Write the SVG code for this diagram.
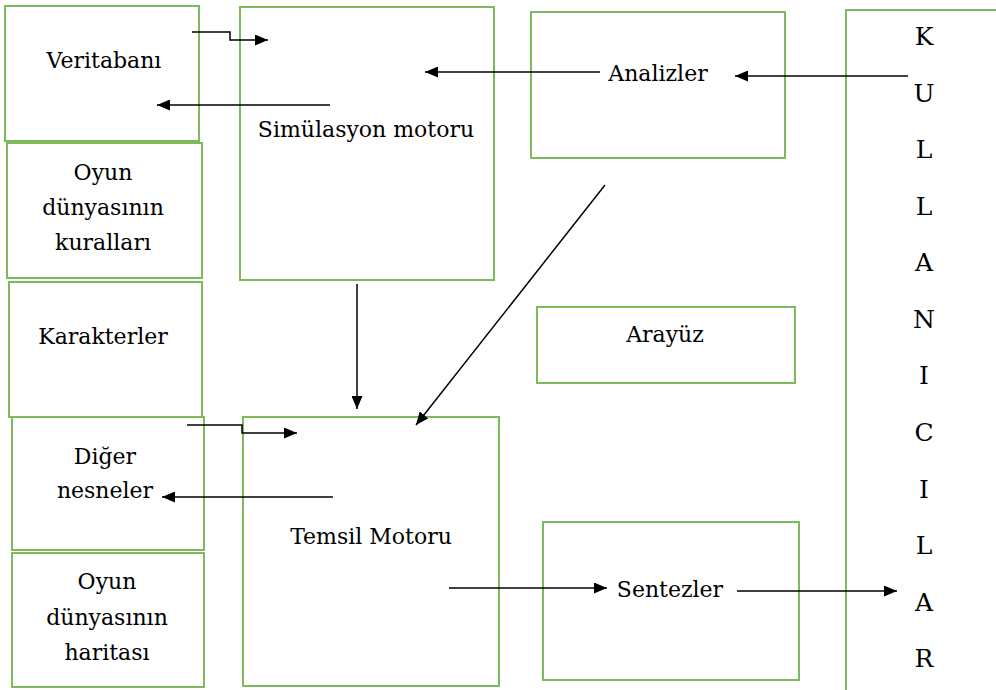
<svg xmlns="http://www.w3.org/2000/svg" width="996" height="690" viewBox="0 0 996 690">
<style>
.box{fill:#fff;stroke:#7dba5c;stroke-width:2}
text{font-family:'DejaVu Serif',serif;font-size:22px;fill:#000;text-anchor:middle}
.k{font-size:25px}
.c{fill:none;stroke:#000;stroke-width:1.5}
</style>
<defs>
<marker id="ah" viewBox="0 0 13 11" refX="13" refY="5.5" markerWidth="13" markerHeight="11" markerUnits="userSpaceOnUse" orient="auto">
<path d="M0,0 L13,5.5 L0,11 Z" fill="#000"/>
</marker>
</defs>
<rect width="996" height="690" fill="#fff"/>
<g id="veritabani"><rect class="box" x="5" y="6" width="194" height="135"/><text x="104" y="68">Veritabanı</text></g>
<g id="kurallar"><rect class="box" x="7" y="143" width="195" height="135"/><text x="103" y="180">Oyun</text><text x="103" y="215">dünyasının</text><text x="103" y="250">kuralları</text></g>
<g id="karakterler"><rect class="box" x="9" y="282" width="193" height="135"/><text x="103" y="344">Karakterler</text></g>
<g id="diger"><rect class="box" x="12" y="417" width="192" height="133"/><text x="105" y="464">Diğer</text><text x="105" y="498">nesneler</text></g>
<g id="harita"><rect class="box" x="12" y="553" width="192" height="134"/><text x="107" y="589">Oyun</text><text x="107" y="625">dünyasının</text><text x="107" y="660">haritası</text></g>
<g id="simulasyon"><rect class="box" x="240" y="7" width="254" height="273"/><text x="366" y="137">Simülasyon motoru</text></g>
<g id="temsil"><rect class="box" x="243" y="417" width="256" height="269"/><text x="371" y="544">Temsil Motoru</text></g>
<g id="analizler"><rect class="box" x="531" y="12" width="254" height="146"/><text x="658" y="81">Analizler</text></g>
<g id="arayuz"><rect class="box" x="537" y="307" width="258" height="76"/><text x="665" y="342">Arayüz</text></g>
<g id="sentezler"><rect class="box" x="543" y="522" width="256" height="158"/><text x="670" y="597">Sentezler</text></g>
<g id="kullanicilar"><rect class="box" x="846" y="10" width="170" height="700"/>
<text class="k" x="924" y="45">K</text><text class="k" x="924" y="102">U</text><text class="k" x="924" y="158">L</text><text class="k" x="924" y="215">L</text><text class="k" x="924" y="271">A</text><text class="k" x="924" y="328">N</text><text class="k" x="924" y="384">I</text><text class="k" x="924" y="441">C</text><text class="k" x="924" y="498">I</text><text class="k" x="924" y="554">L</text><text class="k" x="924" y="611">A</text><text class="k" x="924" y="667">R</text></g>
<g id="connectors">
<polyline class="c" points="192,32 230,32 230,40 268,40" marker-end="url(#ah)"/>
<line class="c" x1="330" y1="105" x2="157" y2="105" marker-end="url(#ah)"/>
<line class="c" x1="600" y1="72" x2="425" y2="72" marker-end="url(#ah)"/>
<line class="c" x1="908" y1="76" x2="735" y2="76" marker-end="url(#ah)"/>
<line class="c" x1="357" y1="284" x2="357" y2="409" marker-end="url(#ah)"/>
<line class="c" x1="605" y1="185" x2="416" y2="425" marker-end="url(#ah)"/>
<polyline class="c" points="187,425 242,425 242,433 297,433" marker-end="url(#ah)"/>
<line class="c" x1="333" y1="497" x2="162" y2="497" marker-end="url(#ah)"/>
<line class="c" x1="449" y1="588" x2="607" y2="588" marker-end="url(#ah)"/>
<line class="c" x1="737" y1="591" x2="897" y2="591" marker-end="url(#ah)"/>
</g>
</svg>
